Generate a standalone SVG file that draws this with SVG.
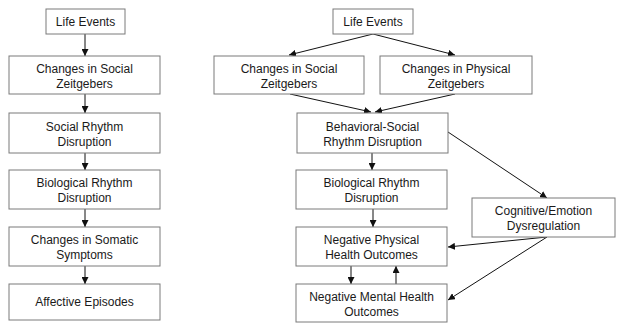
<svg xmlns="http://www.w3.org/2000/svg" width="617" height="324" viewBox="0 0 617 324">
<defs>
<marker id="ah" viewBox="0 0 10 10" refX="10" refY="5" markerWidth="7" markerHeight="7" markerUnits="userSpaceOnUse" orient="auto">
<path d="M0,0 L10,5 L0,10 z" fill="#111"/>
</marker>
<style>
.box{fill:#fff;stroke:#7a7a7a;stroke-width:1}
.t{font-family:"Liberation Sans",Arial,sans-serif;font-size:12px;fill:#1a1a1a;text-anchor:middle}
.c{stroke:#111;stroke-width:1;fill:none;marker-end:url(#ah)}
</style>
</defs>
<rect width="617" height="324" fill="#fff"/>
<g id="connectors">
<line class="c" x1="85" y1="34" x2="85" y2="56"/>
<line class="c" x1="85" y1="94" x2="85" y2="113"/>
<line class="c" x1="85" y1="153" x2="85" y2="170"/>
<line class="c" x1="85" y1="209" x2="85" y2="227"/>
<line class="c" x1="85" y1="266" x2="85" y2="284"/>
<line class="c" x1="373" y1="34" x2="289" y2="55"/>
<line class="c" x1="373" y1="34" x2="455" y2="55"/>
<line class="c" x1="290" y1="94" x2="371" y2="112"/>
<line class="c" x1="455" y1="94" x2="375" y2="112"/>
<line class="c" x1="372" y1="153" x2="372" y2="170"/>
<line class="c" x1="373" y1="209" x2="373" y2="227"/>
<line class="c" x1="351" y1="266" x2="351" y2="284"/>
<line class="c" x1="396" y1="284" x2="396" y2="266"/>
<line class="c" x1="448" y1="132" x2="547" y2="198"/>
<line class="c" x1="547" y1="237" x2="448" y2="247"/>
<line class="c" x1="547" y1="237" x2="448" y2="300"/>
</g>
<g id="l-life">
<rect class="box" x="46" y="9" width="79" height="25"/>
<text class="t" x="85.5" y="26">Life Events</text>
</g>
<g id="l-social-zeit">
<rect class="box" x="9" y="56" width="151" height="38"/>
<text class="t" x="84.5" y="73">Changes in Social</text>
<text class="t" x="84.5" y="88">Zeitgebers</text>
</g>
<g id="l-social-rhythm">
<rect class="box" x="9" y="113" width="151" height="40"/>
<text class="t" x="84.5" y="131">Social Rhythm</text>
<text class="t" x="84.5" y="146">Disruption</text>
</g>
<g id="l-bio-rhythm">
<rect class="box" x="9" y="170" width="151" height="39"/>
<text class="t" x="84.5" y="187">Biological Rhythm</text>
<text class="t" x="84.5" y="202">Disruption</text>
</g>
<g id="l-somatic">
<rect class="box" x="9" y="227" width="151" height="39"/>
<text class="t" x="84.5" y="244">Changes in Somatic</text>
<text class="t" x="84.5" y="259">Symptoms</text>
</g>
<g id="l-affective">
<rect class="box" x="9" y="284" width="151" height="36"/>
<text class="t" x="84.5" y="306">Affective Episodes</text>
</g>
<g id="r-life">
<rect class="box" x="333" y="9" width="80" height="25"/>
<text class="t" x="373" y="26">Life Events</text>
</g>
<g id="r-social-zeit">
<rect class="box" x="214" y="56" width="150" height="38"/>
<text class="t" x="289" y="73">Changes in Social</text>
<text class="t" x="289" y="88">Zeitgebers</text>
</g>
<g id="r-physical-zeit">
<rect class="box" x="380" y="56" width="152" height="38"/>
<text class="t" x="456" y="73">Changes in Physical</text>
<text class="t" x="456" y="88">Zeitgebers</text>
</g>
<g id="r-behavioral">
<rect class="box" x="297" y="113" width="151" height="40"/>
<text class="t" x="372.5" y="131">Behavioral-Social</text>
<text class="t" x="372.5" y="146">Rhythm Disruption</text>
</g>
<g id="r-bio-rhythm">
<rect class="box" x="296" y="170" width="151" height="39"/>
<text class="t" x="371.5" y="187">Biological Rhythm</text>
<text class="t" x="371.5" y="202">Disruption</text>
</g>
<g id="r-physical-health">
<rect class="box" x="296" y="227" width="151" height="39"/>
<text class="t" x="371.5" y="244">Negative Physical</text>
<text class="t" x="371.5" y="259">Health Outcomes</text>
</g>
<g id="r-mental-health">
<rect class="box" x="296" y="284" width="151" height="38"/>
<text class="t" x="371.5" y="301">Negative Mental Health</text>
<text class="t" x="371.5" y="316">Outcomes</text>
</g>
<g id="r-cognitive">
<rect class="box" x="472" y="198" width="143" height="39"/>
<text class="t" x="543.5" y="215">Cognitive/Emotion</text>
<text class="t" x="543.5" y="230">Dysregulation</text>
</g>
</svg>
